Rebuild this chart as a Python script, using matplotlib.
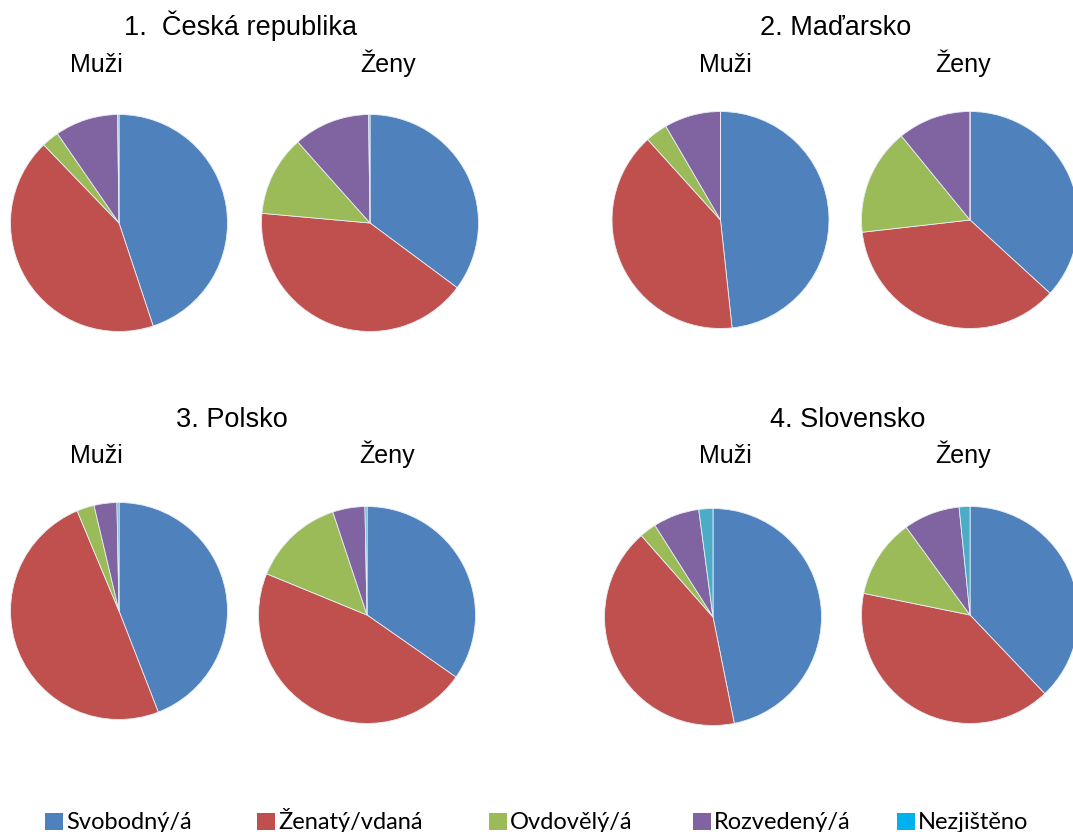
import matplotlib
matplotlib.use("Agg")
import matplotlib.pyplot as plt
from matplotlib.patches import Rectangle

categories = ["Svobodný/á", "Ženatý/vdaná", "Ovdovělý/á", "Rozvedený/á", "Nezjištěno"]
countries = ["1.  Česká republika", "2. Maďarsko", "3. Polsko", "4. Slovensko"]
sexes = ["Muži", "Ženy"]

cz_muzi = [44.9, 42.9, 2.6, 9.4, 0.2]
cz_zeny = [35.2, 41.3, 12.0, 11.4, 0.2]
hu_muzi = [48.3, 40.0, 3.3, 8.4, 0.0]
hu_zeny = [36.8, 36.4, 15.9, 10.9, 0.0]
pl_muzi = [44.1, 49.6, 2.6, 3.4, 0.3]
pl_zeny = [34.7, 46.5, 13.7, 4.8, 0.3]
sk_muzi = [46.9, 41.7, 2.5, 6.9, 2.1]
sk_zeny = [37.9, 40.3, 11.8, 8.4, 1.6]

pie_colors = ["#4F81BD", "#C0504D", "#9BBB59", "#8064A2", "#4BACC6"]
legend_colors = ["#4F81BD", "#C0504D", "#9BBB59", "#8064A2", "#00B0F0"]

W, H = 1073, 832
fig = plt.figure(figsize=(W / 100, H / 100), dpi=100)

R = 108.5
pies = [
    (cz_muzi, 119, 223), (cz_zeny, 370, 223),
    (hu_muzi, 720.5, 220), (hu_zeny, 970, 220),
    (pl_muzi, 119, 611), (pl_zeny, 367, 615),
    (sk_muzi, 713, 617), (sk_zeny, 970, 615),
]
for vals, cx, cy in pies:
    ax = fig.add_axes([(cx - R) / W, 1 - (cy + R) / H, 2 * R / W, 2 * R / H])
    ax.pie(vals, colors=pie_colors, startangle=90, counterclock=False,
           radius=1.0, wedgeprops=dict(edgecolor="#e8eef5", linewidth=0.6))
    ax.set_xlim(-1, 1)
    ax.set_ylim(-1, 1)
    ax.set_aspect("equal")
    ax.axis("off")

fam = ["Liberation Sans", "DejaVu Sans"]
titles = [(countries[0], 241, 35), (countries[1], 836, 35),
          (countries[2], 232, 427), (countries[3], 848, 427)]
for t, x, y in titles:
    fig.text(x / W, 1 - y / H, t, ha="center", va="baseline",
             family=fam, fontsize=19.5, color="black")

sex_pos = [(96, 72), (388, 72), (725, 72), (963, 72),
           (96, 463), (387, 463), (725, 463), (963, 463)]
for i, (x, y) in enumerate(sex_pos):
    fig.text(x / W, 1 - y / H, sexes[i % 2], ha="center", va="baseline",
             family=fam, fontsize=18, color="black")

leg_x = [45, 257, 489, 693, 897]
leg_top = 813
sq_w, sq_h = 18, 17
for x, lab, col in zip(leg_x, categories, legend_colors):
    fig.patches.append(Rectangle((x / W, 1 - (leg_top + sq_h) / H), sq_w / W, sq_h / H,
                                 transform=fig.transFigure, facecolor=col,
                                 edgecolor="none", figure=fig))
    fig.text((x + 21) / W, 1 - 829 / H, lab, ha="left", va="baseline",
             family=["Lato", "DejaVu Sans"], fontsize=17, color="black")

fig.savefig("out.png", dpi=100)
